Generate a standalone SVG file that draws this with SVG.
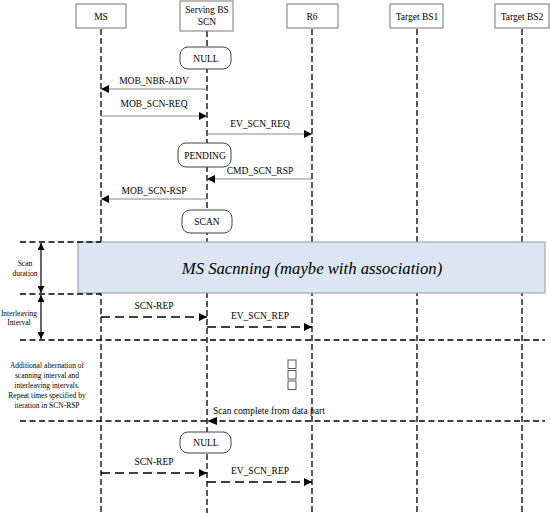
<svg xmlns="http://www.w3.org/2000/svg" width="550" height="513" viewBox="0 0 550 513">
<defs>
<marker id="ah" viewBox="0 0 10 10" refX="10" refY="5" markerWidth="8" markerHeight="8" markerUnits="userSpaceOnUse" orient="auto"><path d="M0,0 L10,5 L0,10 z" fill="#000"/></marker>
<marker id="ab" viewBox="0 0 10 10" refX="10" refY="5" markerWidth="7" markerHeight="7" markerUnits="userSpaceOnUse" orient="auto-start-reverse"><path d="M0,0 L10,5 L0,10 z" fill="#000"/></marker>
</defs>
<rect width="550" height="513" fill="#fff"/>
<g id="lifelines" stroke="#000" stroke-width="1.3" stroke-dasharray="6,3" fill="none">
<line x1="101" y1="29" x2="101" y2="513"/>
<line x1="207" y1="31" x2="207" y2="513"/>
<line x1="312" y1="29" x2="312" y2="513"/>
<line x1="417" y1="29" x2="417" y2="513"/>
<line x1="522" y1="29" x2="522" y2="513"/>
</g>
<g font-family="Liberation Serif" font-size="9.5" text-anchor="middle" fill="#000">
<g id="scan-block">
<rect x="78" y="242" width="467" height="51" fill="#dce6f2" stroke="#999" stroke-width="1"/>
<text x="312" y="273.5" font-size="16.7" font-style="italic">MS Sacnning (maybe with association)</text>
</g>
<g id="hdr-ms"><rect x="76" y="4" width="50" height="24" fill="#fff" stroke="#777"/><text x="101" y="19.5">MS</text></g>
<g id="hdr-sbs"><rect x="180" y="1" width="53" height="30" fill="#fff" stroke="#777"/><text x="207" y="13">Serving BS</text><text x="207" y="25">SCN</text></g>
<g id="hdr-r6"><rect x="287" y="4" width="51" height="24" fill="#fff" stroke="#777"/><text x="312" y="19.5">R6</text></g>
<g id="hdr-t1"><rect x="390" y="4" width="53" height="24" fill="#fff" stroke="#777"/><text x="417" y="19.5">Target BS1</text></g>
<g id="hdr-t2"><rect x="495" y="4" width="54" height="24" fill="#fff" stroke="#777"/><text x="522" y="19.5">Target BS2</text></g>
<g id="st-null1"><rect x="180" y="47" width="51" height="22" rx="8" fill="#fff" stroke="#444"/><text x="206" y="61.5">NULL</text></g>
<g id="st-pending"><rect x="178" y="143" width="53" height="24" rx="8" fill="#fff" stroke="#444"/><text x="205" y="158.5">PENDING</text></g>
<g id="st-scan"><rect x="182" y="210" width="50" height="23" rx="8" fill="#fff" stroke="#444"/><text x="207" y="225">SCAN</text></g>
<g id="st-null2"><rect x="180" y="432" width="51" height="21" rx="8" fill="#fff" stroke="#444"/><text x="206" y="446">NULL</text></g>
<g id="separators">
<g stroke="#000" stroke-width="1.5" stroke-dasharray="6,3.5" fill="none">
<line x1="20" y1="242" x2="101" y2="242"/>
<line x1="20" y1="294" x2="101" y2="294"/>
<line x1="20" y1="340" x2="545" y2="340"/>
<line x1="20" y1="421" x2="545" y2="421"/>
</g>
<line stroke="#000" stroke-width="1.2" x1="41" y1="243" x2="41" y2="293" marker-start="url(#ab)" marker-end="url(#ab)"/>
<line stroke="#000" stroke-width="1.2" x1="41" y1="295" x2="41" y2="339" marker-start="url(#ab)" marker-end="url(#ab)"/>
<g font-size="7.5">
<text x="25" y="266">Scan</text>
<text x="25" y="276">duration</text>
<text x="19" y="316">Interleaving</text>
<text x="19" y="325">Interval</text>
<text x="47" y="368">Additional alternation of</text>
<text x="47" y="378">scanning interval and</text>
<text x="47" y="388">interleaving intervals.</text>
<text x="47" y="398">Repeat times specified by</text>
<text x="47" y="408">iteration in SCN-RSP</text>
</g>
<rect x="288" y="360" width="8" height="8.5" fill="#fff" stroke="#444" stroke-width="0.9"/>
<rect x="288" y="370.5" width="8" height="8.5" fill="#fff" stroke="#444" stroke-width="0.9"/>
<rect x="288" y="381" width="8" height="8.5" fill="#fff" stroke="#444" stroke-width="0.9"/>
</g>
<g id="connectors">
<g stroke="#888" stroke-width="1.2" fill="none">
<line x1="207" y1="89" x2="101" y2="89" marker-end="url(#ah)"/>
<line x1="101" y1="116" x2="207" y2="116" marker-end="url(#ah)"/>
<line x1="207" y1="134" x2="312" y2="134" marker-end="url(#ah)"/>
<line x1="312" y1="179" x2="207" y2="179" marker-end="url(#ah)"/>
<line x1="207" y1="199" x2="101" y2="199" marker-end="url(#ah)"/>
</g>
<g stroke="#000" stroke-width="1.5" stroke-dasharray="9,5" fill="none">
<line x1="101" y1="317" x2="207" y2="317" marker-end="url(#ah)"/>
<line x1="207" y1="327" x2="312" y2="327" marker-end="url(#ah)"/>
<line x1="101" y1="473" x2="207" y2="473" marker-end="url(#ah)"/>
<line x1="207" y1="482" x2="312" y2="482" marker-end="url(#ah)"/>
</g>
<path d="M217,417 L207,421 L217,425 z" fill="#000"/>
<text x="154" y="84">MOB_NBR-ADV</text>
<text x="154" y="107">MOB_SCN-REQ</text>
<text x="260" y="127">EV_SCN_REQ</text>
<text x="260" y="174">CMD_SCN_RSP</text>
<text x="154" y="194">MOB_SCN-RSP</text>
<text x="154" y="309">SCN-REP</text>
<text x="260" y="319">EV_SCN_REP</text>
<text x="213" y="414" text-anchor="start">Scan complete from data part</text>
<text x="154" y="465">SCN-REP</text>
<text x="260" y="474">EV_SCN_REP</text>
</g>
</g>
</svg>
